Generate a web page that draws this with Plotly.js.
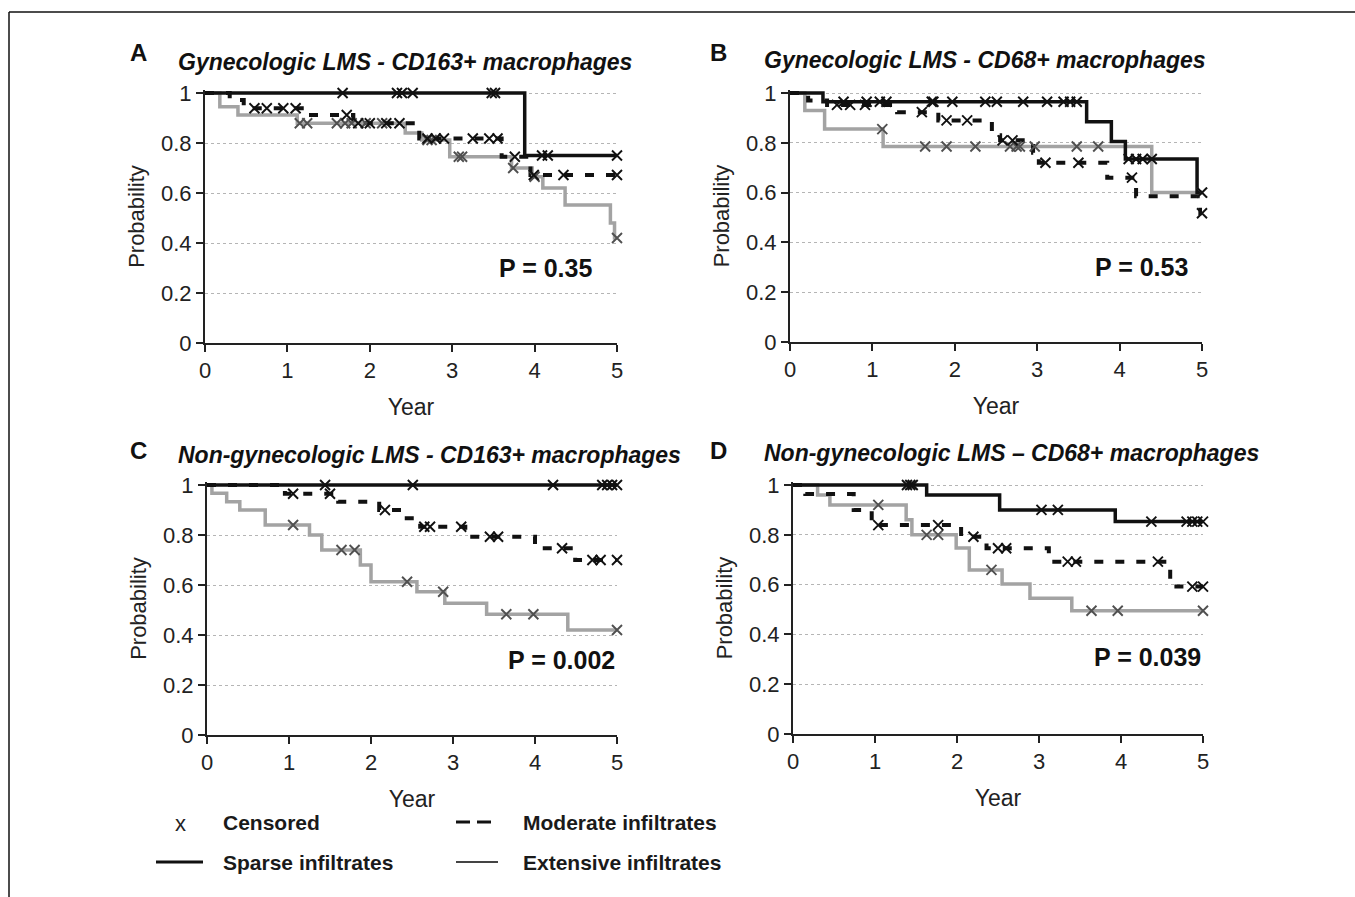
<!DOCTYPE html>
<html>
<head>
<meta charset="utf-8">
<script src="https://cdn.plot.ly/plotly-3.0.1.min.js"></script>
<style>html,body{margin:0;padding:0;background:#fff;}#chart{width:1355px;height:897px;}</style>
</head>
<body>
<div id="chart"></div>
<script>
// ---------- DATA ----------
// Panel labels and titles
const panelLetters = ["A", "B", "C", "D"];
const panelTitles = [
  "Gynecologic LMS - CD163+ macrophages",
  "Gynecologic LMS - CD68+ macrophages",
  "Non-gynecologic LMS - CD163+ macrophages",
  "Non-gynecologic LMS \u2013 CD68+ macrophages"
];
const pValues = ["P = 0.35", "P = 0.53", "P = 0.002", "P = 0.039"];
const xTicks = [0, 1, 2, 3, 4, 5];
const yTicks = [0, 0.2, 0.4, 0.6, 0.8, 1];
const yTickText = ["0", "0.2", "0.4", "0.6", "0.8", "1"];
const legendLabels = ["Censored", "Moderate infiltrates", "Sparse infiltrates", "Extensive infiltrates"];

// Panel A
const aSparseT = [0, 3.88, 5];
const aSparseS = [1, 0.75, 0.75];
const aSparseC = [1.67, 2.33, 2.39, 2.52, 3.48, 3.52, 4.09, 4.16, 5];
const aModT = [0, 0.3, 0.47, 1.25, 1.8, 2.6, 3.6, 3.95, 5];
const aModS = [1, 0.972, 0.939, 0.912, 0.879, 0.818, 0.745, 0.672, 0.672];
const aModC = [0.6, 0.75, 0.95, 1.1, 1.72, 1.86, 2.0, 2.2, 2.36, 2.7, 2.8, 2.9, 3.25, 3.45, 3.55, 3.76, 3.99, 4.35, 5];
const aExtT = [0, 0.18, 0.4, 1.12, 2.43, 2.63, 2.97, 3.72, 3.97, 4.1, 4.37, 4.92, 4.97, 5];
const aExtS = [1, 0.945, 0.912, 0.879, 0.84, 0.812, 0.745, 0.70, 0.665, 0.62, 0.552, 0.48, 0.42, 0.42];
const aExtC = [1.15, 1.24, 1.6, 1.7, 1.78, 1.95, 2.15, 2.7, 2.75, 3.08, 3.12, 3.74, 4.0, 5];

// Panel B
const bSparseT = [0, 0.40, 3.6, 3.9, 4.07, 4.94, 5];
const bSparseS = [1, 0.965, 0.885, 0.805, 0.735, 0.60, 0.60];
const bSparseC = [0.65, 0.93, 1.09, 1.17, 1.72, 1.74, 1.97, 2.37, 2.51, 2.83, 3.12, 3.32, 3.40, 3.48, 4.11, 4.2, 4.28, 4.39, 5];
const bModT = [0, 0.22, 0.45, 1.3, 1.8, 2.45, 2.55, 2.95, 3.02, 3.85, 4.2, 4.98, 5];
const bModS = [1, 0.97, 0.952, 0.923, 0.89, 0.83, 0.81, 0.76, 0.72, 0.66, 0.585, 0.517, 0.517];
const bModC = [0.57, 0.73, 0.91, 1.6, 1.9, 2.15, 2.58, 2.7, 3.1, 3.5, 4.15, 5];
const bExtT = [0, 0.18, 0.42, 1.13, 4.39, 5];
const bExtS = [1, 0.93, 0.855, 0.785, 0.60, 0.60];
const bExtC = [1.12, 1.64, 1.9, 2.25, 2.67, 2.75, 2.79, 2.97, 3.48, 3.74, 5];

// Panel C
const cSparseT = [0, 5];
const cSparseS = [1, 1];
const cSparseC = [1.44, 2.51, 4.22, 4.82, 4.88, 4.94, 5];
const cModT = [0, 0.95, 1.6, 2.1, 2.4, 2.6, 3.15, 4.0, 4.49, 5];
const cModS = [1, 0.965, 0.933, 0.9, 0.867, 0.833, 0.793, 0.747, 0.70, 0.70];
const cModC = [1.05, 1.5, 2.17, 2.65, 2.72, 3.1, 3.45, 3.55, 4.33, 4.7, 4.8, 5];
const cExtT = [0, 0.06, 0.24, 0.40, 0.71, 1.25, 1.40, 1.87, 2.0, 2.56, 2.9, 3.41, 4.4, 5];
const cExtS = [1, 0.967, 0.933, 0.9, 0.84, 0.80, 0.74, 0.68, 0.613, 0.573, 0.527, 0.483, 0.42, 0.42];
const cExtC = [1.05, 1.64, 1.8, 2.44, 2.88, 3.65, 3.98, 5];

// Panel D
const dSparseT = [0, 1.63, 2.52, 3.93, 5];
const dSparseS = [1, 0.96, 0.90, 0.853, 0.853];
const dSparseC = [1.39, 1.43, 1.46, 3.03, 3.23, 4.37, 4.8, 4.87, 4.93, 5];
const dModT = [0, 0.15, 0.74, 0.96, 2.05, 2.36, 3.12, 4.6, 5];
const dModS = [1, 0.964, 0.90, 0.839, 0.792, 0.746, 0.692, 0.592, 0.592];
const dModC = [1.04, 1.77, 2.2, 2.5, 2.6, 3.35, 3.45, 4.45, 4.87, 5];
const dExtT = [0, 0.3, 0.45, 1.38, 1.45, 1.99, 2.15, 2.55, 2.89, 3.40, 5];
const dExtS = [1, 0.96, 0.92, 0.86, 0.80, 0.747, 0.659, 0.602, 0.545, 0.495, 0.495];
const dExtC = [1.04, 1.63, 1.77, 2.42, 3.64, 3.96, 5];

// ---------- BUILD ----------
const FONT = "Liberation Sans, Arial, Helvetica, sans-serif";
const W = 1355, H = 897;
const px = v => v / W;
const py = v => 1 - v / H;

const panels = [
  {ext: [aExtT, aExtS, aExtC], mod: [aModT, aModS, aModC], sp: [aSparseT, aSparseS, aSparseC]},
  {ext: [bExtT, bExtS, bExtC], mod: [bModT, bModS, bModC], sp: [bSparseT, bSparseS, bSparseC]},
  {ext: [cExtT, cExtS, cExtC], mod: [cModT, cModS, cModC], sp: [cSparseT, cSparseS, cSparseC]},
  {ext: [dExtT, dExtS, dExtC], mod: [dModT, dModS, dModC], sp: [dSparseT, dSparseS, dSparseC]}
];

// pixel boxes of plot areas: [left, right, top(y=1), bottom(y=0)]
const boxes = [
  [205, 617, 93, 343],
  [790, 1202, 93, 342],
  [207, 617, 485, 735],
  [793, 1203, 485, 734]
];
const YMAX = 1.012;

function stepAt(T, S, t) {
  let v = S[0];
  for (let i = 0; i < T.length; i++) { if (T[i] <= t) v = S[i]; }
  return v;
}

const styles = {
  ext: {color: "#a3a3a3", width: 3.5, dash: "solid", mark: "#505050"},
  mod: {color: "#111111", width: 4, dash: "9px,12px", mark: "#111111"},
  sp:  {color: "#111111", width: 3.5, dash: "solid", mark: "#111111"}
};

const traces = [];
panels.forEach((p, i) => {
  const xa = "x" + (i === 0 ? "" : i + 1);
  const ya = "y" + (i === 0 ? "" : i + 1);
  ["ext", "mod", "sp"].forEach(k => {
    const [T, S] = p[k];
    const st = styles[k];
    traces.push({
      x: T, y: S, xaxis: xa, yaxis: ya, type: "scatter", mode: "lines",
      line: {shape: "hv", color: st.color, width: st.width, dash: st.dash},
      showlegend: false, hoverinfo: "skip"
    });
  });
  ["ext", "mod", "sp"].forEach(k => {
    const [T, S, C] = p[k];
    const st = styles[k];
    traces.push({
      x: C, y: C.map(t => stepAt(T, S, t)), xaxis: xa, yaxis: ya, type: "scatter", mode: "markers",
      marker: {symbol: "x-thin", size: 10, color: st.mark, line: {color: st.mark, width: 1.9}},
      cliponaxis: false, showlegend: false, hoverinfo: "skip"
    });
  });
});

const layout = {
  width: W, height: H,
  margin: {l: 0, r: 0, t: 0, b: 0},
  paper_bgcolor: "#ffffff", plot_bgcolor: "#ffffff",
  font: {family: FONT, color: "#1a1a1a", size: 20},
  showlegend: false,
  annotations: [], shapes: []
};

boxes.forEach((b, i) => {
  const sfx = i === 0 ? "" : String(i + 1);
  const topPx = b[3] - (b[3] - b[2]) * YMAX;
  layout["xaxis" + sfx] = {
    domain: [px(b[0]), px(b[1])], anchor: "y" + sfx, range: [0, 5],
    tickvals: xTicks, ticktext: xTicks.map(String),
    showline: true, linecolor: "#222", linewidth: 2,
    ticks: "outside", ticklen: 7, tickwidth: 2, tickcolor: "#222",
    showgrid: false, zeroline: false,
    tickfont: {family: FONT, size: 22, color: "#222"},
    title: {text: "Year", font: {family: FONT, size: 23, color: "#222"}, standoff: 16}
  };
  layout["yaxis" + sfx] = {
    domain: [py(b[3]), py(topPx)], anchor: "x" + sfx, range: [0, YMAX],
    tickvals: yTicks, ticktext: yTickText,
    showline: true, linecolor: "#222", linewidth: 2,
    ticks: "outside", ticklen: 7, tickwidth: 2, tickcolor: "#222",
    showgrid: true, gridcolor: "#b5b5b5", gridwidth: 1, griddash: "dot",
    zeroline: false,
    tickfont: {family: FONT, size: 22, color: "#222"},
    title: {text: "Probability", font: {family: FONT, size: 22, color: "#222"}, standoff: 10}
  };
});

// Letters, titles, P-values
const letterPos = [[138, 52], [718, 52], [138, 450], [718, 450]];
const titlePos = [[176, 62], [762, 60], [176, 455], [762, 453]];
const pPos = [[594, 268], [1190, 267], [617, 660], [1203, 657]];
for (let i = 0; i < 4; i++) {
  layout.annotations.push({
    xref: "paper", yref: "paper", x: px(letterPos[i][0]), y: py(letterPos[i][1]),
    xanchor: "center", yanchor: "middle", showarrow: false, text: "<b>" + panelLetters[i] + "</b>",
    font: {family: FONT, size: 24, color: "#111"}
  });
  layout.annotations.push({
    xref: "paper", yref: "paper", x: px(titlePos[i][0]), y: py(titlePos[i][1]),
    xanchor: "left", yanchor: "middle", showarrow: false, text: "<b><i>" + panelTitles[i] + "</i></b>",
    font: {family: FONT, size: 23, color: "#111"}
  });
  layout.annotations.push({
    xref: "paper", yref: "paper", x: px(pPos[i][0]), y: py(pPos[i][1]),
    xanchor: "right", yanchor: "middle", showarrow: false, text: "<b>" + pValues[i] + "</b>",
    font: {family: FONT, size: 25, color: "#111"}
  });
}

// Legend (drawn manually)
layout.annotations.push({xref: "paper", yref: "paper", x: px(180), y: py(823), xanchor: "center", yanchor: "middle",
  showarrow: false, text: "x", font: {family: FONT, size: 22, color: "#222"}});
const legTextPos = [[221, 822], [521, 822], [221, 862], [521, 862]];
legendLabels.forEach((t, i) => {
  layout.annotations.push({xref: "paper", yref: "paper", x: px(legTextPos[i][0]), y: py(legTextPos[i][1]),
    xanchor: "left", yanchor: "middle", showarrow: false, text: "<b>" + t + "</b>",
    font: {family: FONT, size: 21, color: "#1a1a1a"}});
});
layout.shapes.push({type: "line", xref: "paper", yref: "paper", x0: px(456), x1: px(470), y0: py(822), y1: py(822), line: {color: "#111", width: 3}});
layout.shapes.push({type: "line", xref: "paper", yref: "paper", x0: px(477), x1: px(491), y0: py(822), y1: py(822), line: {color: "#111", width: 3}});
layout.shapes.push({type: "line", xref: "paper", yref: "paper", x0: px(156), x1: px(203), y0: py(862), y1: py(862), line: {color: "#111", width: 3}});
layout.shapes.push({type: "line", xref: "paper", yref: "paper", x0: px(456), x1: px(498), y0: py(862), y1: py(862), line: {color: "#444", width: 1.8}});

// Figure frame (top and left edges visible)
layout.shapes.push({type: "line", xref: "paper", yref: "paper", x0: px(9), x1: 1, y0: py(12), y1: py(12), line: {color: "#111", width: 1.5}});
layout.shapes.push({type: "line", xref: "paper", yref: "paper", x0: px(9), x1: px(9), y0: py(12), y1: 0, line: {color: "#111", width: 1.5}});

Plotly.newPlot("chart", traces, layout, {staticPlot: true, displayModeBar: false});
</script>
</body>
</html>
